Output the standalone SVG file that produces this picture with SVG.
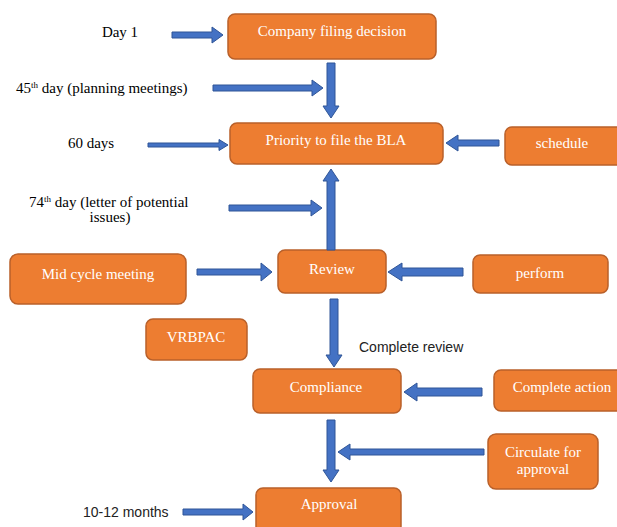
<svg xmlns="http://www.w3.org/2000/svg" width="617" height="527" viewBox="0 0 617 527">
<style>
.box{fill:#ED7D31;stroke:#B9602A;stroke-width:1.5}
.bt{font-family:"Liberation Serif",serif;font-size:15px;fill:#FFFFFF;text-anchor:middle}
.lt{font-family:"Liberation Serif",serif;font-size:15px;fill:#000000}
.st{font-family:"Liberation Sans",sans-serif;font-size:14px;fill:#222222}
.arr{fill:#4472C4;stroke:#2F5597;stroke-width:1}
</style>
<rect width="617" height="527" fill="#FFFFFF"/>
<g id="n-company"><rect class="box" x="228" y="14" width="208" height="45" rx="7"/><text class="bt" x="332" y="36">Company filing decision</text></g>
<g id="n-priority"><rect class="box" x="230" y="123" width="213" height="41" rx="7"/><text class="bt" x="336" y="145">Priority to file the BLA</text></g>
<g id="n-schedule"><rect class="box" x="505" y="127" width="120" height="38" rx="7"/><text class="bt" x="562" y="148">schedule</text></g>
<g id="n-midcycle"><rect class="box" x="10" y="254" width="176" height="50" rx="8"/><text class="bt" x="98" y="279">Mid cycle meeting</text></g>
<g id="n-review"><rect class="box" x="278" y="250" width="108" height="43" rx="7"/><text class="bt" x="332" y="274">Review</text></g>
<g id="n-perform"><rect class="box" x="473" y="255" width="135" height="38" rx="7"/><text class="bt" x="540" y="278">perform</text></g>
<g id="n-vrbpac"><rect class="box" x="146" y="319" width="101" height="41" rx="7"/><text class="bt" x="196" y="342">VRBPAC</text></g>
<g id="n-compliance"><rect class="box" x="253" y="369" width="148" height="44" rx="7"/><text class="bt" x="326" y="392">Compliance</text></g>
<g id="n-completeaction"><rect class="box" x="494" y="370" width="130" height="41" rx="7"/><text class="bt" x="562" y="392">Complete action</text></g>
<g id="n-circulate"><rect class="box" x="488" y="434" width="110" height="55" rx="8"/><text class="bt" x="543" y="457">Circulate for</text><text class="bt" x="543" y="474">approval</text></g>
<g id="n-approval"><rect class="box" x="256" y="488" width="145" height="45" rx="7"/><text class="bt" x="329" y="509">Approval</text></g>
<g id="labels">
<text class="lt" x="120" y="37" text-anchor="middle">Day 1</text>
<text class="lt" x="16" y="93">45<tspan font-size="9" dy="-5">th</tspan><tspan dy="5"> day (planning meetings)</tspan></text>
<text class="lt" x="91" y="148" text-anchor="middle">60 days</text>
<text class="lt" x="29" y="207">74<tspan font-size="9" dy="-5">th</tspan><tspan dy="5"> day (letter of potential</tspan></text>
<text class="lt" x="110" y="222" text-anchor="middle">issues)</text>
<text class="st" x="359" y="352">Complete review</text>
<text class="st" x="83" y="517">10-12 months</text>
</g>
<g id="connectors">
<path class="arr" d="M172 32 H212 V27 L223 35 L212 43 V38 H172 Z"/>
<path class="arr" d="M213 85 H312 V80 L323 88 L312 96 V91 H213 Z"/>
<path class="arr" d="M148 143 H219 V139.5 L228 145 L219 150.5 V147 H148 Z"/>
<path class="arr" d="M229 205 H311 V200 L322 208 L311 216 V211 H229 Z"/>
<path class="arr" d="M327 63 H335 V106 H339 L331 118 L323 106 H327 Z"/>
<path class="arr" d="M327 250 H335 V181 H339 L331 169 L323 181 H327 Z"/>
<path class="arr" d="M499 140 H458 V135 L446 143 L458 151 V146 H499 Z"/>
<path class="arr" d="M197 269 H261 V263 L272 272 L261 281 V275 H197 Z"/>
<path class="arr" d="M463 268 H402 V263 L388 272 L402 281 V276 H463 Z"/>
<path class="arr" d="M330 299 H338 V355 H342 L334 367 L326 355 H330 Z"/>
<path class="arr" d="M482 388 H417 V383 L404 392 L417 401 V396 H482 Z"/>
<path class="arr" d="M327 420 H335 V470 H339 L331 482 L323 470 H327 Z"/>
<path class="arr" d="M484 449 H350 V444 L338 452 L350 460 V455 H484 Z"/>
<path class="arr" d="M183 509 H243 V504 L253 512 L243 520 V515 H183 Z"/>
</g>
</svg>
